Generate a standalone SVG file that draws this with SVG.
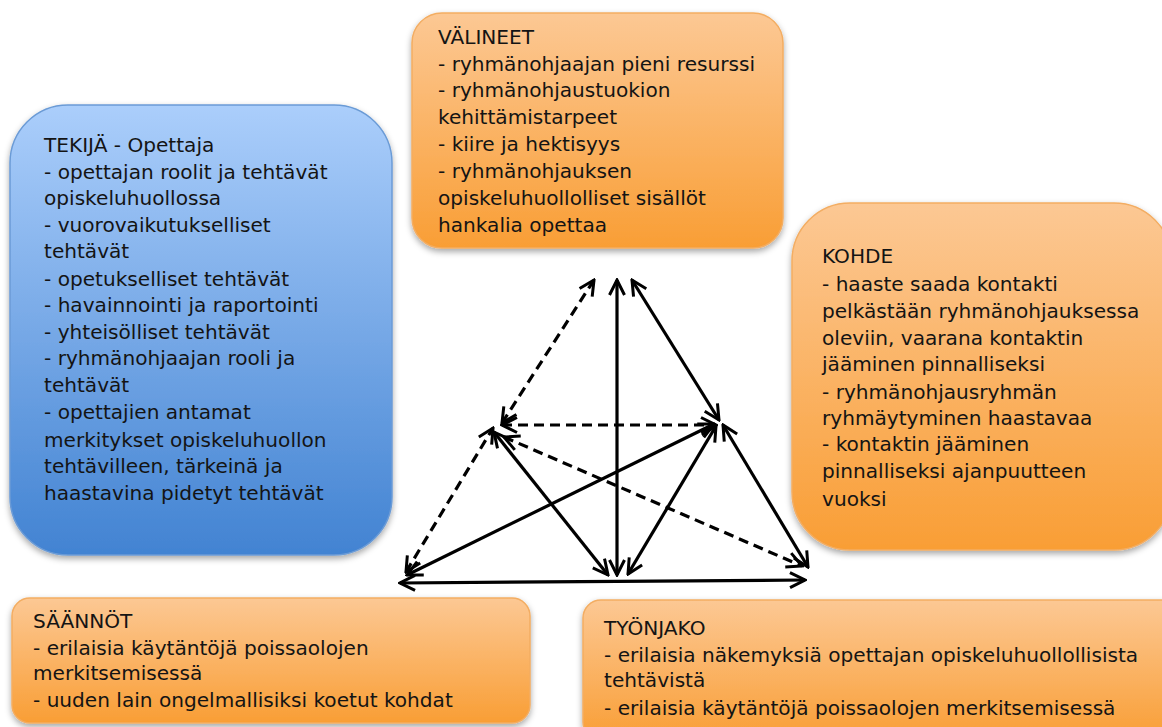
<svg xmlns="http://www.w3.org/2000/svg" width="1162" height="727" viewBox="0 0 1162 727">
<defs>
<linearGradient id="gBlue" x1="0" y1="0" x2="0" y2="1">
<stop offset="0" stop-color="#abcefb"/>
<stop offset="1" stop-color="#4283d2"/>
</linearGradient>
<linearGradient id="gOrange" x1="0" y1="0" x2="0" y2="1">
<stop offset="0" stop-color="#fcc894"/>
<stop offset="1" stop-color="#f99e35"/>
</linearGradient>
<filter id="sh" x="-10%" y="-10%" width="120%" height="125%">
<feDropShadow dx="0" dy="3" stdDeviation="3" flood-color="#000" flood-opacity="0.35"/>
</filter>
<marker id="ah" markerUnits="userSpaceOnUse" viewBox="0 0 18 18" markerWidth="18" markerHeight="18" refX="16" refY="9" orient="auto-start-reverse">
<path d="M1,1.5 L16,9 L1,16.5" fill="none" stroke="#000" stroke-width="3" stroke-linejoin="miter"/>
</marker>
<style>
.box-b{fill:url(#gBlue);stroke:#6b9bd6;stroke-width:1.5;filter:url(#sh)}
.box-o{fill:url(#gOrange);stroke:#f3ad62;stroke-width:1.5;filter:url(#sh)}
.t{font-family:"DejaVu Sans",sans-serif;font-size:20.1px;fill:#141414}
.c{stroke:#000;stroke-width:3.2;fill:none;marker-start:url(#ah);marker-end:url(#ah)}
.d{stroke-dasharray:10 6}
</style>
</defs>

<g id="node-tekija">
<rect class="box-b" x="10" y="105" width="382" height="450" rx="58" ry="58"/>
<text class="t">
<tspan x="44" y="152">TEKIJÄ - Opettaja</tspan>
<tspan x="44" y="179">- opettajan roolit ja tehtävät</tspan>
<tspan x="44" y="205">opiskeluhuollossa</tspan>
<tspan x="44" y="232">- vuorovaikutukselliset</tspan>
<tspan x="44" y="258">tehtävät</tspan>
<tspan x="44" y="286">- opetukselliset tehtävät</tspan>
<tspan x="44" y="312">- havainnointi ja raportointi</tspan>
<tspan x="44" y="339">- yhteisölliset tehtävät</tspan>
<tspan x="44" y="365">- ryhmänohjaajan rooli ja</tspan>
<tspan x="44" y="392">tehtävät</tspan>
<tspan x="44" y="419">- opettajien antamat</tspan>
<tspan x="44" y="447">merkitykset opiskeluhuollon</tspan>
<tspan x="44" y="473">tehtävilleen, tärkeinä ja</tspan>
<tspan x="44" y="500">haastavina pidetyt tehtävät</tspan>
</text>
</g>

<g id="node-valineet">
<rect class="box-o" x="412" y="13" width="371" height="235" rx="30" ry="30"/>
<text class="t">
<tspan x="438" y="44">VÄLINEET</tspan>
<tspan x="438" y="71">- ryhmänohjaajan pieni resurssi</tspan>
<tspan x="438" y="97">- ryhmänohjaustuokion</tspan>
<tspan x="438" y="124">kehittämistarpeet</tspan>
<tspan x="438" y="151">- kiire ja hektisyys</tspan>
<tspan x="438" y="178">- ryhmänohjauksen</tspan>
<tspan x="438" y="205">opiskeluhuollolliset sisällöt</tspan>
<tspan x="438" y="232">hankalia opettaa</tspan>
</text>
</g>

<g id="node-kohde">
<rect class="box-o" x="792" y="203" width="380" height="347" rx="58" ry="58"/>
<text class="t">
<tspan x="822" y="263">KOHDE</tspan>
<tspan x="822" y="291">- haaste saada kontakti</tspan>
<tspan x="822" y="318">pelkästään ryhmänohjauksessa</tspan>
<tspan x="822" y="345">oleviin, vaarana kontaktin</tspan>
<tspan x="822" y="371">jääminen pinnalliseksi</tspan>
<tspan x="822" y="399">- ryhmänohjausryhmän</tspan>
<tspan x="822" y="425">ryhmäytyminen haastavaa</tspan>
<tspan x="822" y="451">- kontaktin jääminen</tspan>
<tspan x="822" y="478">pinnalliseksi ajanpuutteen</tspan>
<tspan x="822" y="506">vuoksi</tspan>
</text>
</g>

<g id="node-saannot">
<rect class="box-o" x="12" y="598" width="518" height="125" rx="18" ry="18"/>
<text class="t">
<tspan x="33" y="628">SÄÄNNÖT</tspan>
<tspan x="33" y="655">- erilaisia käytäntöjä poissaolojen</tspan>
<tspan x="33" y="680">merkitsemisessä</tspan>
<tspan x="33" y="707">- uuden lain ongelmallisiksi koetut kohdat</tspan>
</text>
</g>

<g id="node-tyonjako">
<rect class="box-o" x="583" y="600" width="600" height="140" rx="18" ry="18"/>
<text class="t">
<tspan x="604" y="635">TYÖNJAKO</tspan>
<tspan x="604" y="662">- erilaisia näkemyksiä opettajan opiskeluhuollollisista</tspan>
<tspan x="604" y="687">tehtävistä</tspan>
<tspan x="604" y="715">- erilaisia käytäntöjä poissaolojen merkitsemisessä</tspan>
</text>
</g>

<g id="connectors">
<line class="c d" x1="502" y1="423" x2="594" y2="280"/>
<line class="c" x1="617" y1="575" x2="617" y2="280"/>
<line class="c" x1="719" y1="420" x2="632" y2="280"/>
<line class="c d" x1="502" y1="425" x2="716" y2="425"/>
<line class="c d" x1="406" y1="572" x2="493" y2="428"/>
<line class="c" x1="494" y1="432" x2="608" y2="575"/>
<line class="c d" x1="504" y1="437" x2="802" y2="566"/>
<line class="c" x1="407" y1="575" x2="714" y2="424"/>
<line class="c" x1="716" y1="426" x2="628" y2="574"/>
<line class="c" x1="723" y1="425" x2="808" y2="567"/>
<line class="c" x1="400" y1="583" x2="805" y2="580"/>
</g>
</svg>
